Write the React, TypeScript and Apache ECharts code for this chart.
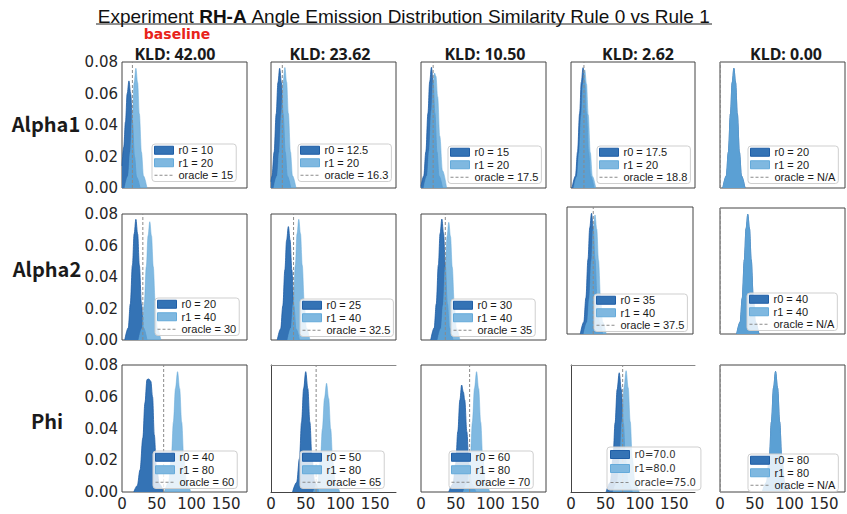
import React, { useEffect, useRef } from 'react';
import * as echarts from 'echarts';

// ---------- text ----------
const TITLE_PREFIX = 'Experiment ';
const TITLE_BOLD = 'RH-A';
const TITLE_SUFFIX = ' Angle Emission Distribution Similarity Rule 0 vs Rule 1';
const ROW_LABELS = ['Alpha1', 'Alpha2', 'Phi'];
const KLD = ['KLD: 42.00', 'KLD: 23.62', 'KLD: 10.50', 'KLD: 2.62', 'KLD: 0.00'];
const BASELINE = 'baseline';

// ---------- axes ----------
const X_MIN = 0;
const X_MAX = 180;
const X_STEP = 50; // ticks 0, 50, 100, 150
const Y_MIN = 0;
const Y_MAX = 0.08;
const Y_STEP = 0.02; // ticks 0.00 .. 0.08

// ---------- legend labels ----------
const LEG_R0 = [
  ['r0 = 10', 'r0 = 12.5', 'r0 = 15', 'r0 = 17.5', 'r0 = 20'],
  ['r0 = 20', 'r0 = 25', 'r0 = 30', 'r0 = 35', 'r0 = 40'],
  ['r0 = 40', 'r0 = 50', 'r0 = 60', 'r0=70.0', 'r0 = 80'],
];
const LEG_R1 = [
  ['r1 = 20', 'r1 = 20', 'r1 = 20', 'r1 = 20', 'r1 = 20'],
  ['r1 = 40', 'r1 = 40', 'r1 = 40', 'r1 = 40', 'r1 = 40'],
  ['r1 = 80', 'r1 = 80', 'r1 = 80', 'r1=80.0', 'r1 = 80'],
];
const LEG_OR = [
  ['oracle = 15', 'oracle = 16.3', 'oracle = 17.5', 'oracle = 18.8', 'oracle = N/A'],
  ['oracle = 30', 'oracle = 32.5', 'oracle = 35', 'oracle = 37.5', 'oracle = N/A'],
  ['oracle = 60', 'oracle = 65', 'oracle = 70', 'oracle=75.0', 'oracle = N/A'],
];
// oracle positions (N/A drawn at the left edge)
const ORACLE_X = [
  [15, 16.3, 17.5, 18.8, 0.6],
  [30, 32.5, 35, 37.5, 0.6],
  [60, 65, 70, 75, 0.6],
];

// ---------- densities: [angle, density] ----------
const R0_ALPHA1 = [
  [[0, 0.014], [2.5, 0.026], [5, 0.042], [7.5, 0.06], [10, 0.068], [12.5, 0.06], [15, 0.042], [18, 0.02], [21, 0.007], [26, 0]],
  [[0, 0.004], [1.5, 0.0076], [4.5, 0.0228], [7.5, 0.0471], [10, 0.0669], [12.5, 0.076], [15, 0.0669], [17.5, 0.0471], [20.5, 0.0228], [23.5, 0.0076], [28.5, 0]],
  [[0, 0.001], [4, 0.0077], [7, 0.023], [10, 0.0475], [12.5, 0.0674], [15, 0.0766], [17.5, 0.0674], [20, 0.0475], [23, 0.023], [26, 0.0077], [31, 0]],
  [[1.5, 0], [6.5, 0.0076], [9.5, 0.0229], [12.5, 0.0474], [15, 0.0672], [17.5, 0.0764], [20, 0.0672], [22.5, 0.0474], [25.5, 0.0229], [28.5, 0.0076], [33.5, 0]],
  [[4, 0], [9, 0.0076], [12, 0.0228], [15, 0.0471], [17.5, 0.0669], [20, 0.076], [22.5, 0.0669], [25, 0.0471], [28, 0.0228], [31, 0.0076], [36, 0]],
];
const R1_ALPHA1 = [
  [[4, 0], [9, 0.0076], [12, 0.0228], [15, 0.0471], [17.5, 0.0669], [20, 0.076], [22.5, 0.0669], [25, 0.0471], [28, 0.0228], [31, 0.0076], [36, 0]],
  [[4, 0], [9, 0.0077], [12, 0.023], [15, 0.0474], [17.5, 0.0673], [20, 0.0765], [22.5, 0.0673], [25, 0.0474], [28, 0.023], [31, 0.0077], [36, 0]],
  [[4, 0], [9, 0.008], [12, 0.024], [15, 0.049], [17.5, 0.068], [19.5, 0.073], [21.5, 0.071], [24, 0.058], [27, 0.033], [31, 0.011], [37, 0]],
  [[4, 0], [9, 0.0075], [12, 0.0225], [15, 0.0465], [17.5, 0.066], [20, 0.075], [22.5, 0.066], [25, 0.0465], [28, 0.0225], [31, 0.0075], [36, 0]],
  [[4, 0], [9, 0.0076], [12, 0.0228], [15, 0.0471], [17.5, 0.0669], [20, 0.076], [22.5, 0.0669], [25, 0.0471], [28, 0.0228], [31, 0.0076], [36, 0]],
];
const R0_ALPHA2 = [
  [[4, 0], [9, 0.0077], [12, 0.023], [15, 0.0475], [17.5, 0.0674], [20, 0.0766], [22.5, 0.0674], [25, 0.0475], [28, 0.023], [31, 0.0077], [36, 0]],
  [[9, 0], [14, 0.0072], [17, 0.0216], [20, 0.0446], [22.5, 0.0634], [25, 0.072], [27.5, 0.0634], [30, 0.0446], [33, 0.0216], [36, 0.0072], [41, 0]],
  [[14, 0], [19, 0.0077], [22, 0.023], [25, 0.0476], [27.5, 0.0676], [30, 0.0768], [32.5, 0.0676], [35, 0.0476], [38, 0.023], [41, 0.0077], [46, 0]],
  [[19, 0], [24, 0.0076], [27, 0.0228], [30, 0.0471], [32.5, 0.0669], [35, 0.076], [37.5, 0.0669], [40, 0.0471], [43, 0.0228], [46, 0.0076], [51, 0]],
  [[24, 0], [29, 0.0076], [32, 0.0228], [35, 0.0471], [37.5, 0.0669], [40, 0.076], [42.5, 0.0669], [45, 0.0471], [48, 0.0228], [51, 0.0076], [56, 0]],
];
const R1_ALPHA2 = [
  [[24, 0], [29, 0.0075], [32, 0.0225], [35, 0.0466], [37.5, 0.0661], [40, 0.0751], [42.5, 0.0661], [45, 0.0466], [48, 0.0225], [51, 0.0075], [56, 0]],
  [[24, 0], [29, 0.0077], [32, 0.023], [35, 0.0475], [37.5, 0.0674], [40, 0.0766], [42.5, 0.0674], [45, 0.0475], [48, 0.023], [51, 0.0077], [56, 0]],
  [[24, 0], [29, 0.0075], [32, 0.0224], [35, 0.0463], [37.5, 0.0657], [40, 0.0747], [42.5, 0.0657], [45, 0.0463], [48, 0.0224], [51, 0.0075], [56, 0]],
  [[24, 0], [29, 0.0075], [32, 0.0225], [35, 0.0465], [37.5, 0.066], [40, 0.075], [42.5, 0.066], [45, 0.0465], [48, 0.0225], [51, 0.0075], [56, 0]],
  [[24, 0], [29, 0.0076], [32, 0.0228], [35, 0.0471], [37.5, 0.0669], [40, 0.076], [42.5, 0.0669], [45, 0.0471], [48, 0.0228], [51, 0.0076], [56, 0]],
];
const R0_PHI = [
  [[17, 0], [22, 0.004], [26, 0.014], [30, 0.034], [33, 0.056], [36, 0.0708], [38.5, 0.0712], [41.5, 0.0698], [44, 0.06], [46.5, 0.036], [49.5, 0.016], [54, 0.005], [60, 0]],
  [[31, 0], [37, 0.0061], [41, 0.0212], [44, 0.044], [47, 0.0652], [50, 0.0758], [53, 0.0652], [56, 0.044], [59, 0.0212], [63, 0.0061], [69, 0]],
  [[40, 0], [46, 0.005], [50, 0.018], [53, 0.038], [56, 0.058], [58.5, 0.0674], [61, 0.063], [63, 0.058], [66, 0.038], [69, 0.018], [73, 0.005], [79, 0]],
  [[51, 0], [57, 0.006], [61, 0.021], [64, 0.0436], [67, 0.0646], [70, 0.0751], [73, 0.0646], [76, 0.0436], [79, 0.021], [83, 0.006], [89, 0]],
  [[61, 0], [67, 0.0061], [71, 0.0213], [74, 0.0441], [77, 0.0654], [80, 0.076], [83, 0.0654], [86, 0.0441], [89, 0.0213], [93, 0.0061], [99, 0]],
];
const R1_PHI = [
  [[61, 0], [67, 0.0061], [71, 0.0212], [74, 0.044], [77, 0.0652], [80, 0.0758], [83, 0.0652], [86, 0.044], [89, 0.0212], [93, 0.0061], [99, 0]],
  [[61, 0], [67, 0.0055], [71, 0.0192], [74, 0.0397], [77, 0.0589], [80, 0.0685], [83, 0.0589], [86, 0.0397], [89, 0.0192], [93, 0.0055], [99, 0]],
  [[61, 0], [67, 0.0061], [71, 0.0212], [74, 0.044], [77, 0.0652], [80, 0.0758], [83, 0.0652], [86, 0.044], [89, 0.0212], [93, 0.0061], [99, 0]],
  [[61, 0], [67, 0.0061], [71, 0.0214], [74, 0.0443], [77, 0.0657], [80, 0.0764], [83, 0.0657], [86, 0.0443], [89, 0.0214], [93, 0.0061], [99, 0]],
  [[61, 0], [67, 0.0061], [71, 0.0213], [74, 0.0441], [77, 0.0654], [80, 0.076], [83, 0.0654], [86, 0.0441], [89, 0.0213], [93, 0.0061], [99, 0]],
];
const R0_DATA = [R0_ALPHA1, R0_ALPHA2, R0_PHI];
const R1_DATA = [R1_ALPHA1, R1_ALPHA2, R1_PHI];

// ---------- layout ----------
// [left, top, width, height] per panel
const PANELS = [
  [[122, 62, 125, 126], [271, 62, 125, 126], [421, 62, 125, 126], [571, 62, 124, 126], [720, 62, 125, 126]],
  [[122, 214, 125, 126], [271, 214, 125, 126], [421, 214, 125, 126], [567, 207, 126, 127], [720, 208, 125, 126]],
  [[122, 365, 125, 127], [271, 365, 125, 127], [421, 365, 125, 127], [571, 365, 124, 127], [720, 365, 125, 127]],
];
// panels whose frame has no right edge
const OPEN_RIGHT = [[2, 1], [2, 3]];
// legend box [left, top]
const LEGEND_POS = [
  [[152, 144], [298, 144], [448, 146], [597, 146], [748, 146]],
  [[155, 298], [300, 299], [451, 299], [594, 294], [747, 293]],
  [[153, 451], [300, 451], [449, 451], [607, 447], [748, 454]],
];
const TITLE_X = [175, 330, 485, 638, 786];
const ROW_LABEL_POS = [[46, 123], [47, 268], [47, 420]];

const R0_COLOR = '#3473b5';
const R0_LINE = '#1f5ea6';
const R1_COLOR = 'rgb(100,170,218)';
const R1_PATCH = '#7fb8e0';
const ORACLE_COLOR = '#8a8a8a';
const FRAME = '#444';

function buildOption() {
  const grid: any[] = [];
  const xAxis: any[] = [];
  const yAxis: any[] = [];
  const series: any[] = [];
  const legend: any[] = [];
  const extraX: any[] = [];

  for (let r = 0; r < 3; r++) {
    for (let c = 0; c < 5; c++) {
      const idx = r * 5 + c;
      const [l, t, w, h] = PANELS[r][c];
      const open = OPEN_RIGHT.some(([a, b]) => a === r && b === c);
      grid.push({
        left: l, top: t, width: w, height: h,
        show: !open, borderColor: FRAME, borderWidth: 1, backgroundColor: 'transparent',
        containLabel: false,
      });
      xAxis.push({
        type: 'value', gridIndex: idx, min: X_MIN, max: X_MAX, interval: X_STEP,
        axisLine: { show: open, lineStyle: { color: FRAME, width: 1 } },
        axisTick: { show: false }, splitLine: { show: false },
        axisLabel: {
          show: r === 2, showMaxLabel: false, fontSize: 15, color: '#262626',
          fontFamily: 'DejaVu Sans', margin: 4,
        },
      });
      yAxis.push({
        type: 'value', gridIndex: idx, min: Y_MIN, max: Y_MAX, interval: Y_STEP,
        axisLine: { show: open, lineStyle: { color: FRAME, width: 1 } },
        axisTick: { show: false }, splitLine: { show: false },
        axisLabel: {
          show: c === 0, fontSize: 15, color: '#262626', fontFamily: 'DejaVu Sans', margin: 4,
          formatter: (v: number) => v.toFixed(2),
        },
      });
      if (open) {
        extraX.push({
          type: 'value', gridIndex: idx, position: 'top', min: X_MIN, max: X_MAX,
          axisLine: { show: true, onZero: false, lineStyle: { color: '#888', width: 1 } },
          axisTick: { show: false }, splitLine: { show: false }, axisLabel: { show: false },
        });
      }
      const n0 = LEG_R0[r][c];
      const n1 = LEG_R1[r][c];
      const no = LEG_OR[r][c];
      series.push({
        type: 'line', name: n0, xAxisIndex: idx, yAxisIndex: idx,
        data: R0_DATA[r][c], smooth: 0.35, smoothMonotone: 'x', symbol: 'none',
        lineStyle: { color: R0_LINE, width: 0.8 }, itemStyle: { color: R0_COLOR },
        areaStyle: { color: R0_COLOR, opacity: 1 }, z: 2,
      });
      series.push({
        type: 'line', name: n1, xAxisIndex: idx, yAxisIndex: idx,
        data: R1_DATA[r][c], smooth: 0.35, smoothMonotone: 'x', symbol: 'none',
        lineStyle: { color: R1_COLOR, width: 0.6, opacity: 0.85 }, itemStyle: { color: R1_COLOR },
        areaStyle: { color: R1_COLOR, opacity: 0.82 }, z: 3,
      });
      const ox = ORACLE_X[r][c];
      series.push({
        type: 'line', name: no, xAxisIndex: idx, yAxisIndex: idx,
        data: [[ox, Y_MIN], [ox, Y_MAX]], symbol: 'none',
        lineStyle: { color: ORACLE_COLOR, width: 1, type: [3, 2] }, itemStyle: { color: ORACLE_COLOR }, z: 4,
      });
      const special = r === 2 && c === 3;
      const [ll, lt] = LEGEND_POS[r][c];
      legend.push({
        left: ll, top: lt, orient: 'vertical', selectedMode: false, z: 10,
        backgroundColor: 'rgba(255,255,255,0.8)', borderColor: '#cfcfcf', borderWidth: 1, borderRadius: 3,
        padding: special ? [2, 5, 2, 3] : [0, 3, 0, 2],
        itemGap: special ? 3 : 0, itemWidth: 19, itemHeight: 8,
        textStyle: special
          ? { fontSize: 10, lineHeight: 11, color: '#333', fontFamily: 'DejaVu Sans' }
          : { fontSize: 11, lineHeight: 12.5, color: '#1a1a1a', fontFamily: 'Liberation Sans' },
        data: [
          { name: n0, icon: 'rect', itemStyle: { color: R0_COLOR, borderColor: R0_LINE, borderWidth: 1 } },
          { name: n1, icon: 'rect', itemStyle: { color: R1_PATCH, borderColor: R1_COLOR, borderWidth: 1 } },
          { name: no, itemStyle: { opacity: 0 }, lineStyle: { color: ORACLE_COLOR, width: 1, type: [3, 2] } },
        ],
      });
    }
  }

  const graphic: any[] = [
    {
      type: 'text', x: 404, y: 16, z: 20,
      style: {
        text: `{a|${TITLE_PREFIX}}{b|${TITLE_BOLD}}{a|${TITLE_SUFFIX}}`,
        align: 'center', verticalAlign: 'middle',
        rich: {
          a: { fontSize: 19, fontFamily: 'Liberation Sans', fill: '#111' },
          b: { fontSize: 19, fontFamily: 'Liberation Sans', fontWeight: 'bold', fill: '#111' },
        },
      },
    },
    { type: 'line', z: 20, shape: { x1: 96, y1: 24, x2: 712, y2: 24 }, style: { stroke: '#222', lineWidth: 1 } },
    {
      type: 'text', x: 177, y: 34, z: 20,
      style: { text: BASELINE, align: 'center', verticalAlign: 'middle', fontSize: 14, fontWeight: 'bold', fontFamily: 'DejaVu Sans', fill: '#e8231a' },
    },
  ];
  KLD.forEach((t, c) => {
    graphic.push({
      type: 'text', x: TITLE_X[c], y: 54, z: 20,
      style: { text: t, align: 'center', verticalAlign: 'middle', fontSize: 16, fontWeight: 'bold', fontFamily: 'Noto Sans', fill: '#1a1a1a' },
    });
  });
  ROW_LABELS.forEach((t, r) => {
    graphic.push({
      type: 'text', x: ROW_LABEL_POS[r][0], y: ROW_LABEL_POS[r][1], z: 20,
      style: { text: t, align: 'center', verticalAlign: 'middle', fontSize: 20, fontWeight: 'bold', fontFamily: 'Noto Sans CJK SC', fill: '#1a1a1a' },
    });
  });

  return {
    animation: false, backgroundColor: '#fff', grid,
    xAxis: xAxis.concat(extraX), yAxis, series, legend, graphic,
  };
}

export default function App() {
  const ref = useRef<HTMLDivElement>(null);
  useEffect(() => {
    const chart = echarts.init(ref.current as HTMLDivElement, null, { renderer: 'svg' });
    chart.setOption(buildOption());
    return () => chart.dispose();
  }, []);
  return (
    <div
      ref={ref}
      style={{ position: 'fixed', left: 0, top: 0, width: 847, height: 514, background: '#fff' }}
    />
  );
}
